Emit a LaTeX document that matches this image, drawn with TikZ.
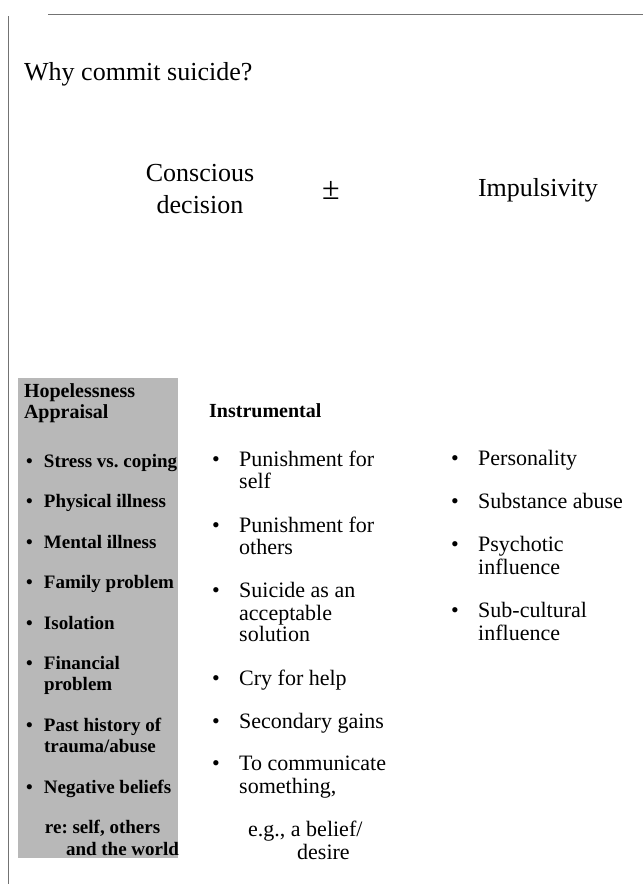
\documentclass[tikz,border=0pt]{standalone}
\usepackage{fontspec}
\setmainfont{Liberation Serif}
\usetikzlibrary{positioning}

\definecolor{scangray}{gray}{0.72}
\definecolor{rulegray}{gray}{0.45}

\tikzstyle{title} = [inner sep=0pt, anchor=base west, font=\fontsize{26}{30}\selectfont]
\tikzstyle{big} = [inner sep=0pt, align=center, font=\fontsize{26}{32}\selectfont]
\tikzstyle{shade} = [rectangle, fill=scangray, minimum width=160pt, minimum height=480pt, inner sep=0pt]
\tikzstyle{head} = [inner sep=0pt, anchor=north west, text width=165pt, align=flush left, font=\fontsize{20}{21.5}\selectfont\bfseries, execute at begin node=\strut, execute at end node=\strut]
\tikzstyle{hitem} = [head, font=\fontsize{19}{21.5}\selectfont\bfseries]
\tikzstyle{item} = [inner sep=0pt, anchor=north west, text width=200pt, align=flush left, font=\fontsize{22}{21.3}\selectfont, execute at begin node=\strut, execute at end node=\strut]
\tikzstyle{frame} = [line width=0.7pt, color=rulegray]

\newcommand{\bul}{\makebox[27pt][l]{\textbullet}}
\newcommand{\cont}{\hspace*{27pt}}
\newcommand{\sbul}{\makebox[18pt][l]{\textbullet}}
\newcommand{\scont}{\hspace*{18pt}}

\begin{document}
\frenchspacing
\begin{tikzpicture}[x=1pt, y=-1pt]
\useasboundingbox (0,0) rectangle (643,884);

% page edges of the scan
\draw [frame] (48,14) -- (643,14);
\draw [frame] (8,16) -- (8,884);

\node (why) [title] at (24,80) {Why commit suicide?};
\node (consc) [big] at (200,189) {Conscious\\decision};
\node (pm) [big, font=\fontsize{32}{32}\selectfont] at (331,190) {±};
\node (impuls) [big] at (538,190) {Impulsivity};

% shaded column
\node (shade) [shade] at (98,618) {};
\node (hope) [head, below right=4pt and 6pt of shade.north west] {Hopelessness\\Appraisal};
\node (stress) [below=27pt of hope.south west, hitem, xshift=2pt] {\sbul Stress vs. coping};
\node (phys) [below=18.5pt of stress.south west, hitem] {\sbul Physical illness};
\node (ment) [below=18.5pt of phys.south west, hitem] {\sbul Mental illness};
\node (fam) [below=18.5pt of ment.south west, hitem] {\sbul Family problem};
\node (iso) [below=18.5pt of fam.south west, hitem] {\sbul Isolation};
\node (fin) [below=18.5pt of iso.south west, hitem] {\sbul Financial\\\scont problem};
\node (past) [below=18.5pt of fin.south west, hitem] {\sbul Past history of\\\scont trauma/abuse};
\node (neg) [below=18.5pt of past.south west, hitem] {\sbul Negative beliefs};
\node (re) [below=18.5pt of neg.south west, hitem, xshift=19pt] {re: self, others\\\hspace*{21pt}and the world};

% instrumental column
\node (instr) [head] at (209,402) {Instrumental};
\node (pun1) [below=26.5pt of instr.south west, item, xshift=3pt] {\bul Punishment for\\\cont self};
\node (pun2) [below=21pt of pun1.south west, item] {\bul Punishment for\\\cont others};
\node (accept) [below=21pt of pun2.south west, item] {\bul Suicide as an\\\cont acceptable\\\cont solution};
\node (cry) [below=21pt of accept.south west, item] {\bul Cry for help};
\node (gains) [below=21pt of cry.south west, item] {\bul Secondary gains};
\node (comm) [below=21pt of gains.south west, item] {\bul To communicate\\\cont something,};
\node (eg) [below=20.5pt of comm.south west, item, xshift=36pt] {e.g., a belief/\\\hspace*{49pt}desire};

% impulsivity column
\node (pers) [item] at (451,450) {\bul Personality};
\node (subst) [below=21pt of pers.south west, item] {\bul Substance abuse};
\node (psych) [below=21pt of subst.south west, item] {\bul Psychotic\\\cont influence};
\node (subcult) [below=21pt of psych.south west, item] {\bul Sub-cultural\\\cont influence};

\end{tikzpicture}
\end{document}
